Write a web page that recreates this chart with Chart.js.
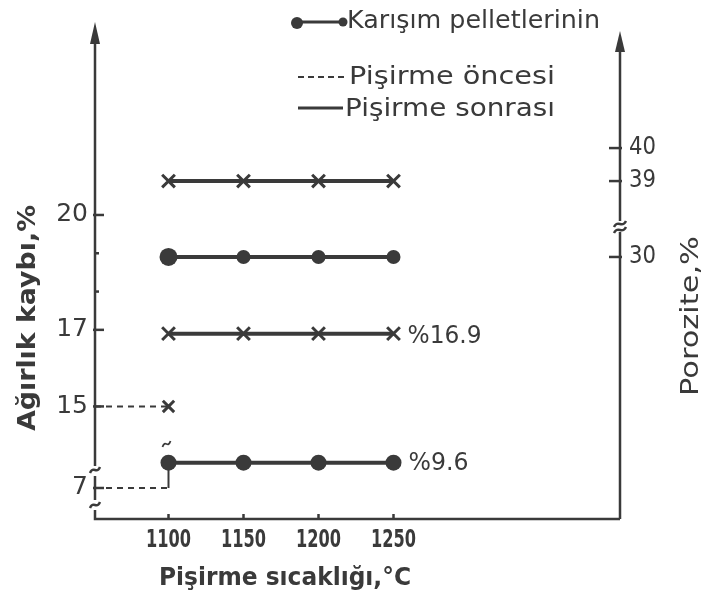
<!DOCTYPE html>
<html lang="tr">
<head>
<meta charset="utf-8">
<title>Pişirme sıcaklığı</title>
<script src="https://cdn.jsdelivr.net/npm/chart.js@4.4.0/dist/chart.umd.min.js"></script>
<style>
  html, body { margin: 0; padding: 0; background: #fff; }
  #kutu { width: 703px; height: 603px; position: relative; }
</style>
</head>
<body>
<div id="kutu"><canvas id="grafik"></canvas></div>
<script>
// degerler
var sicaklik = [1100, 1150, 1200, 1250];
var poroziteCarpi = [39, 39, 39, 39];
var poroziteNokta = [30, 30, 30, 30];
var kayipCarpi = [16.9, 16.9, 16.9, 16.9];
var kayipNokta = [9.6, 9.6, 9.6, 9.6];
var oncesiCarpi = 15;   // 1100 C, pisirme oncesi
var oncesiNokta = 7;    // 1100 C, pisirme oncesi
var solEtiketler = [20, 17, 15, 7];
var solAraCizgi = [19, 18];
var sagEtiketler = [40, 39, 30];
var xEtiketler = [1100, 1150, 1200, 1250];

var murekkep = "#3a3a3a";
var xMin = 1051, xMax = 1401;

// kirik eksenler: kirigin altindaki degerler sikistirilir
function kayipKir(v) {
  return v >= 12 ? v : 12.87 + (v - 7) * 0.254;
}
function poroKir(v) {
  return v >= 35 ? v : 36.7 + (v - 30) * 0.5;
}

function noktalar(dizi, kir) {
  return sicaklik.map(function (t, i) { return { x: t, y: kir(dizi[i]) }; });
}

function dalga(ctx, x, y, w) {
  ctx.beginPath();
  ctx.moveTo(x - w, y + 3);
  ctx.bezierCurveTo(x - w / 3, y - 5, x + w / 3, y + 5, x + w, y - 3);
  ctx.stroke();
}

function yaz(ctx, metin, x, y, font, genislik, hiza) {
  ctx.save();
  ctx.font = font;
  var w = ctx.measureText(metin).width;
  var s = genislik ? genislik / w : 1;
  ctx.translate(x, y);
  ctx.scale(s, 1);
  ctx.textAlign = hiza || "center";
  ctx.textBaseline = "middle";
  ctx.fillText(metin, 0, 0);
  ctx.restore();
}

var eksenCiz = {
  id: "eksenCiz",
  afterDraw: function (chart) {
    var ctx = chart.ctx;
    var a = chart.chartArea;
    var sx = chart.scales.x, sy = chart.scales.y, sy2 = chart.scales.y2;
    var L = a.left, R = a.right, B = a.bottom;
    ctx.save();
    ctx.strokeStyle = murekkep;
    ctx.fillStyle = murekkep;
    ctx.lineWidth = 2.5;
    ctx.lineCap = "butt";

    // sol eksen
    ctx.beginPath();
    ctx.moveTo(L, a.top + 18); ctx.lineTo(L, 466);
    ctx.moveTo(L, 476); ctx.lineTo(L, 500);
    ctx.moveTo(L, 510); ctx.lineTo(L, B);
    ctx.lineTo(R, B);
    ctx.stroke();
    dalga(ctx, L, 470, 5);
    dalga(ctx, L, 505, 5);
    ctx.beginPath();
    ctx.moveTo(L, a.top); ctx.lineTo(L - 5, a.top + 22); ctx.lineTo(L + 5, a.top + 22);
    ctx.closePath(); ctx.fill();

    // sag eksen
    var sagUst = 31;
    ctx.beginPath();
    ctx.moveTo(R, sagUst + 18); ctx.lineTo(R, 221);
    ctx.moveTo(R, 232); ctx.lineTo(R, B);
    ctx.stroke();
    dalga(ctx, R, 224, 6);
    dalga(ctx, R, 230, 6);
    ctx.beginPath();
    ctx.moveTo(R, sagUst); ctx.lineTo(R - 5, sagUst + 21); ctx.lineTo(R + 5, sagUst + 21);
    ctx.closePath(); ctx.fill();

    // sol isaretler
    solEtiketler.forEach(function (v) {
      var py = sy.getPixelForValue(kayipKir(v));
      ctx.beginPath(); ctx.moveTo(L - 2, py); ctx.lineTo(L + 9, py); ctx.stroke();
      yaz(ctx, String(v), L - 7, py, "25px 'DejaVu Sans'", null, "right");
    });
    solAraCizgi.forEach(function (v) {
      var py = sy.getPixelForValue(v);
      ctx.beginPath(); ctx.moveTo(L, py); ctx.lineTo(L + 4, py); ctx.stroke();
    });

    // sag isaretler
    sagEtiketler.forEach(function (v) {
      var py = sy2.getPixelForValue(poroKir(v));
      ctx.beginPath(); ctx.moveTo(R - 11, py); ctx.lineTo(R + 2, py); ctx.stroke();
      yaz(ctx, String(v), R + 9, py, "24px 'DejaVu Sans'", 27, "left");
    });

    // x isaretler
    xEtiketler.forEach(function (v) {
      var px = sx.getPixelForValue(v);
      ctx.beginPath(); ctx.moveTo(px, B); ctx.lineTo(px, B - 5); ctx.stroke();
      yaz(ctx, String(v), px, 540, "bold 25px 'DejaVu Sans Condensed'", 45);
    });

    // eksen basliklari
    yaz(ctx, "Pişirme sıcaklığı,°C", 285, 578, "bold 25px 'DejaVu Sans'", 252);
    ctx.save();
    ctx.translate(28, 318); ctx.rotate(-Math.PI / 2);
    yaz(ctx, "Ağırlık kaybı,%", 0, 0, "bold 25px 'DejaVu Sans'", 226);
    ctx.restore();
    ctx.save();
    ctx.translate(692, 316); ctx.rotate(-Math.PI / 2);
    yaz(ctx, "Porozite,%", 0, 0, "24px 'DejaVu Sans'", 160);
    ctx.restore();

    // deger etiketleri
    var x1250 = sx.getPixelForValue(1250);
    yaz(ctx, "%" + kayipCarpi[3], x1250 + 14, sy.getPixelForValue(kayipCarpi[3]) + 3, "24px 'DejaVu Sans'", 74, "left");
    yaz(ctx, "%" + kayipNokta[3], x1250 + 15, sy.getPixelForValue(kayipKir(kayipNokta[3])) + 1, "24px 'DejaVu Sans'", 60, "left");

    // kirik isareti 1100 noktasi ustunde
    var x1100 = sx.getPixelForValue(1100);
    ctx.lineWidth = 1.8;
    dalga(ctx, x1100 - 2, 444, 4);
    ctx.lineWidth = 2.5;

    // lejant
    ctx.lineWidth = 3;
    ctx.beginPath(); ctx.moveTo(297, 22); ctx.lineTo(343, 22); ctx.stroke();
    ctx.beginPath(); ctx.arc(297, 23, 6, 0, Math.PI * 2); ctx.fill();
    ctx.beginPath(); ctx.arc(343, 22, 4.5, 0, Math.PI * 2); ctx.fill();
    yaz(ctx, "Karışım pelletlerinin", 347, 22, "24px 'DejaVu Sans'", 253, "left");

    ctx.setLineDash([6, 4]);
    ctx.lineWidth = 2;
    ctx.beginPath(); ctx.moveTo(298, 77); ctx.lineTo(345, 77); ctx.stroke();
    ctx.setLineDash([]);
    yaz(ctx, "Pişirme öncesi", 349, 78, "24px 'DejaVu Sans'", 206, "left");

    ctx.lineWidth = 3;
    ctx.beginPath(); ctx.moveTo(298, 108); ctx.lineTo(343, 108); ctx.stroke();
    yaz(ctx, "Pişirme sonrası", 345, 110, "24px 'DejaVu Sans'", 210, "left");

    ctx.restore();
  }
};

var ortak = {
  borderColor: murekkep,
  backgroundColor: murekkep,
  pointBackgroundColor: murekkep,
  pointBorderColor: murekkep,
  borderWidth: 4,
  fill: false,
  tension: 0
};

new Chart(document.getElementById("grafik"), {
  type: "line",
  data: {
    datasets: [
      Object.assign({}, ortak, {
        label: "Porozite x",
        yAxisID: "y2",
        data: noktalar(poroziteCarpi, poroKir),
        pointStyle: "crossRot", pointRadius: 9, pointBorderWidth: 3
      }),
      Object.assign({}, ortak, {
        label: "Porozite karışım",
        yAxisID: "y2",
        data: noktalar(poroziteNokta, poroKir),
        pointStyle: "circle", pointRadius: [9, 7, 7, 7], pointBorderWidth: 0
      }),
      Object.assign({}, ortak, {
        label: "Kayıp x",
        yAxisID: "y",
        data: noktalar(kayipCarpi, function (v) { return v; }),
        pointStyle: "crossRot", pointRadius: 9, pointBorderWidth: 3
      }),
      Object.assign({}, ortak, {
        label: "Kayıp karışım",
        yAxisID: "y",
        data: noktalar(kayipNokta, kayipKir),
        pointStyle: "circle", pointRadius: [8, 8, 8, 8], pointBorderWidth: 0
      }),
      Object.assign({}, ortak, {
        label: "Öncesi x",
        yAxisID: "y",
        borderWidth: 2,
        borderDash: [6, 5],
        data: [{ x: xMin, y: oncesiCarpi }, { x: 1100, y: oncesiCarpi }],
        pointStyle: "crossRot", pointRadius: [0, 8], pointBorderWidth: 3
      }),
      Object.assign({}, ortak, {
        label: "Öncesi karışım",
        yAxisID: "y",
        borderWidth: 2,
        data: [
          { x: xMin, y: kayipKir(oncesiNokta) },
          { x: 1100, y: kayipKir(oncesiNokta) },
          { x: 1100, y: kayipKir(kayipNokta[0]) }
        ],
        segment: {
          borderDash: function (c) { return c.p0DataIndex === 0 ? [6, 5] : []; }
        },
        pointRadius: 0
      })
    ]
  },
  options: {
    responsive: true,
    maintainAspectRatio: false,
    animation: false,
    layout: { padding: { left: 95, right: 83, top: 22, bottom: 84 } },
    plugins: { legend: { display: false }, tooltip: { enabled: false } },
    scales: {
      x: { type: "linear", min: xMin, max: xMax, display: false },
      y: { type: "linear", min: 12.06, max: 25.04, display: false },
      y2: { type: "linear", position: "right", min: 28.76, max: 43.82, display: false }
    }
  },
  plugins: [eksenCiz]
});
</script>
</body>
</html>
